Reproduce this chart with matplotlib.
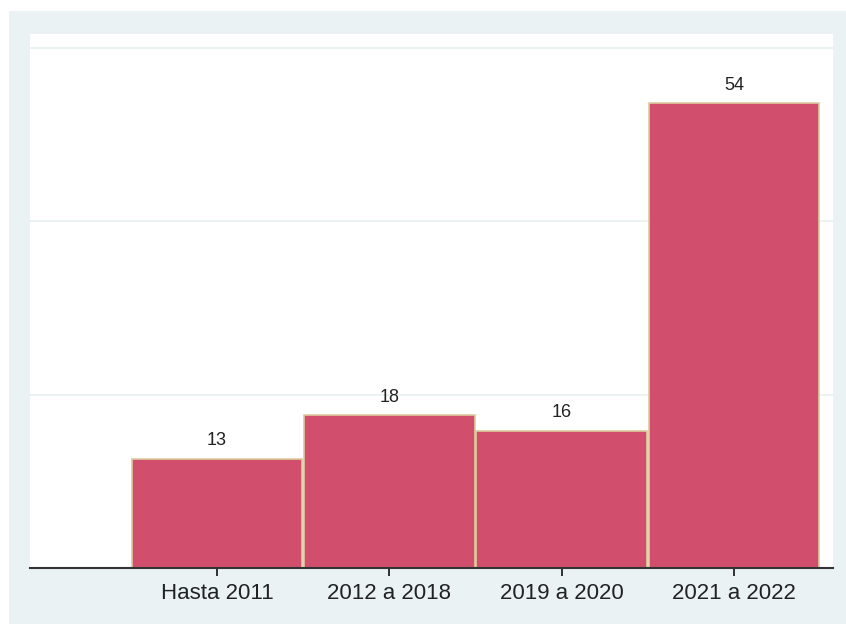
import matplotlib
matplotlib.use("Agg")
import matplotlib.pyplot as plt
from matplotlib.patches import Rectangle

categories = ["Hasta 2011", "2012 a 2018", "2019 a 2020", "2021 a 2022"]
values = [12.6, 17.6, 15.8, 53.6]
labels = ["13", "18", "16", "54"]
grid_ticks = [20, 40, 60]

W, H = 846, 624
fig = plt.figure(figsize=(W / 100, H / 100), dpi=100)
fig.patch.set_facecolor("white")
fig.patches.append(Rectangle((9 / W, 0), 1 - 9 / W, (H - 11) / H,
                             transform=fig.transFigure, facecolor="#EAF2F3",
                             edgecolor="none", zorder=-10))

ax = fig.add_axes([30 / W, (H - 568) / H, (833 - 30) / W, (568 - 34) / H])
ax.set_zorder(1)
ax.set_facecolor("white")
pos = list(range(len(categories)))
bars = ax.bar(pos, values, width=0.99, color="#D14F6D", edgecolor="#DCCB9E",
              linewidth=1.2, zorder=3)
for b, lab in zip(bars, labels):
    ax.annotate(lab, (b.get_x() + b.get_width() / 2, b.get_height()),
                xytext=(0, 7), textcoords="offset points", ha="center", va="bottom",
                fontsize=13, family="Liberation Sans", color="#222222")

ax.set_xlim(-1.085, 3.575)
ax.set_ylim(0, 61.6)
ax.set_yticks(grid_ticks)
ax.yaxis.grid(True, color="#E8F0F2", linewidth=1.2, zorder=0)
ax.tick_params(axis="y", left=False, labelleft=False)
ax.set_xticks(pos)
ax.set_xticklabels(categories, fontsize=16, family="Liberation Sans", color="#222222")
ax.tick_params(axis="x", length=6, width=1.3, color="#222222", pad=5)
for s in ["left", "right", "top"]:
    ax.spines[s].set_visible(False)
ax.spines["bottom"].set_color("#333333")
ax.spines["bottom"].set_linewidth(1.5)
ax.spines["bottom"].set_zorder(4)

fig.savefig("out.png", dpi=100)
